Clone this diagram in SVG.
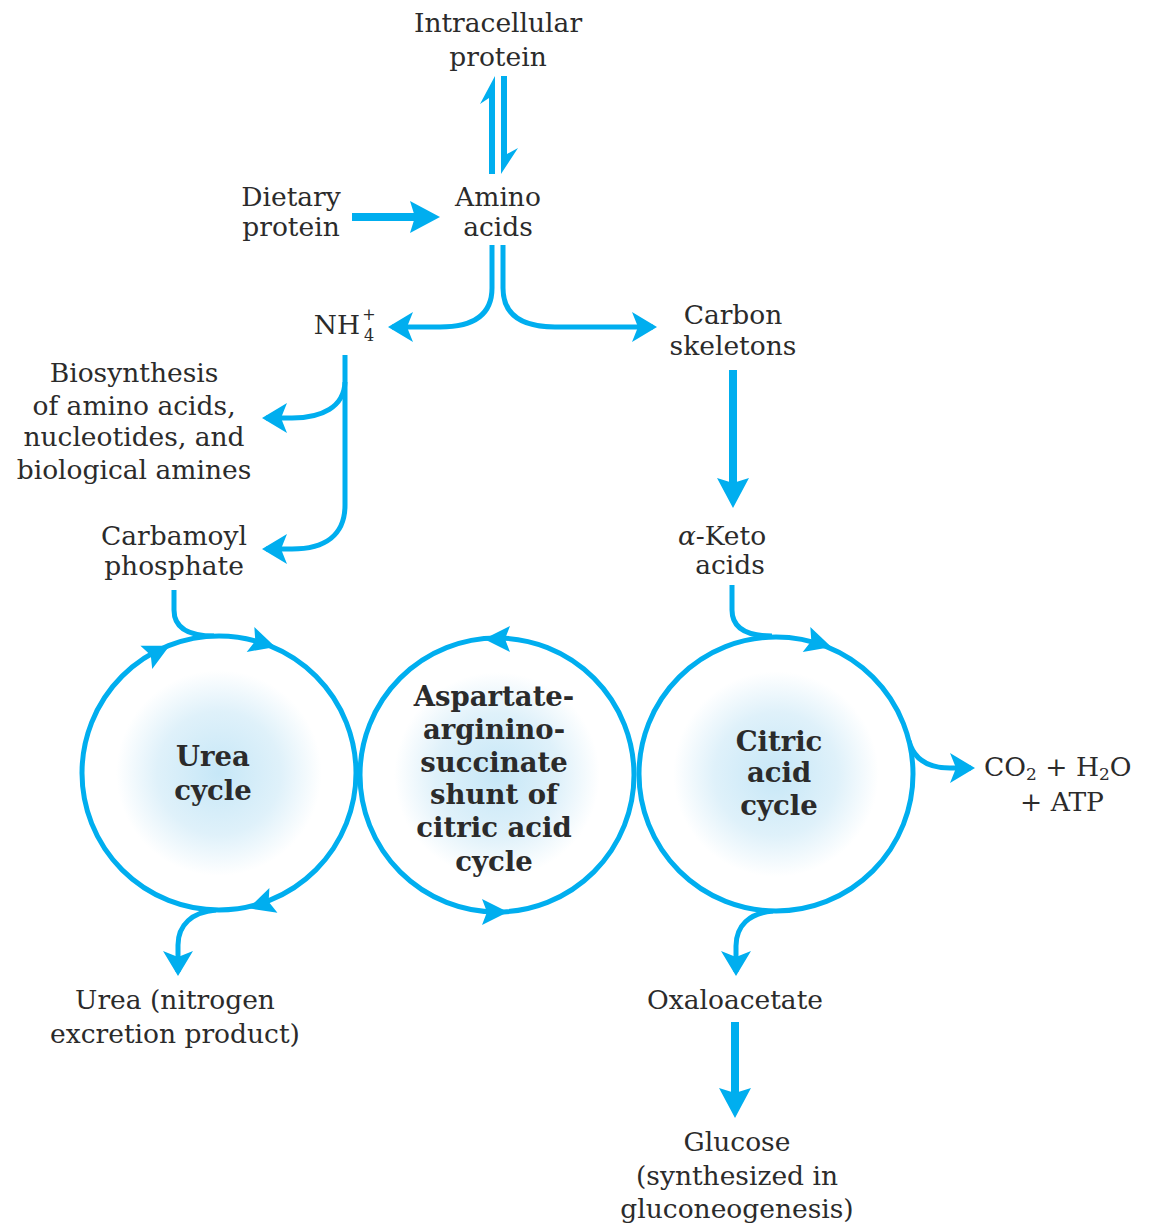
<svg xmlns="http://www.w3.org/2000/svg" xmlns:xlink="http://www.w3.org/1999/xlink" width="1149" height="1224" viewBox="0 0 1149 1224">
<style>
text{font-family:"DejaVu Serif","Liberation Serif",serif;font-size:26.5px;fill:#2b2b2b;text-anchor:middle}
text.b{font-weight:bold;font-size:27.5px}
.ln{fill:none;stroke:#00AEEF;stroke-width:5}
.tk{fill:none;stroke:#00AEEF;stroke-width:8}
.cyc{fill:url(#glow);stroke:#00AEEF;stroke-width:5}
.ah{fill:#00AEEF}
</style>
<defs>
<radialGradient id="glow" cx="0.5" cy="0.5" r="0.5">
<stop offset="0" stop-color="#c6e7f7"/>
<stop offset="0.45" stop-color="#dff1fa"/>
<stop offset="0.75" stop-color="#ffffff"/>
<stop offset="1" stop-color="#ffffff"/>
</radialGradient>
<marker id="mt" markerUnits="userSpaceOnUse" viewBox="-2 -17 30 34" markerWidth="30" markerHeight="34" refX="21" refY="0" orient="auto">
<path d="M0,-15 L25,0 L0,15 L6,0 Z" fill="#00AEEF"/>
</marker>
<marker id="mb" markerUnits="userSpaceOnUse" viewBox="-2 -18 34 36" markerWidth="34" markerHeight="36" refX="22" refY="0" orient="auto">
<path d="M0,-16 L30,0 L0,16 L5,0 Z" fill="#00AEEF"/>
</marker>
<path id="ca" d="M14,0 L-12,-13 L-7,0 L-12,13 Z" fill="#00AEEF"/>
</defs>

<g id="connectors">
<!-- reversible arrows -->
<polygon class="ah" points="495,76 480,104 489,98 489,174 495,174"/>
<polygon class="ah" points="501,76 507,76 507,154 518,148 501,174"/>
<!-- dietary -> amino -->
<path class="tk" d="M352,217 L432,217" marker-end="url(#mb)"/>
<!-- amino -> NH4 -->
<path class="ln" d="M492,245 V288 C492,316 472,327 440,327 L392,327" marker-end="url(#mt)"/>
<!-- amino -> carbon skeletons -->
<path class="ln" d="M503,245 V288 C503,316 523,327 555,327 L653,327" marker-end="url(#mt)"/>
<!-- NH4 -> biosynthesis -->
<path class="ln" d="M345,382 C344,407 322,418 292,418 L266,418" marker-end="url(#mt)"/>
<!-- NH4 -> carbamoyl phosphate -->
<path class="ln" d="M345,355 V505 C345,535 325,549 292,549 L266,549" marker-end="url(#mt)"/>
<!-- carbon skeletons -> keto acids -->
<path class="tk" d="M733,370 L733,500" marker-end="url(#mb)"/>
<!-- carbamoyl -> urea cycle -->
<path class="ln" d="M174,590 V610 C174,628 188,636 214,636"/>
<!-- urea cycle -> urea -->
<path class="ln" d="M216,910 C192,912 178,925 178,945 L178,972" marker-end="url(#mt)"/>
<!-- keto acids -> citric -->
<path class="ln" d="M732,585 V610 C732,628 746,636 772,636"/>
<!-- citric -> oxaloacetate -->
<path class="ln" d="M773,911 C749,913 736,926 736,946 L736,972" marker-end="url(#mt)"/>
<!-- citric -> CO2 -->
<path class="ln" d="M909,741 C914,760 928,768 950,768 L971,768" marker-end="url(#mt)"/>
<!-- oxaloacetate -> glucose -->
<path class="tk" d="M735,1022 L735,1110" marker-end="url(#mb)"/>
</g>

<g id="urea-cycle">
<circle class="cyc" cx="219" cy="773" r="137"/>
<use href="#ca" transform="translate(157,652) rotate(-27)"/>
<use href="#ca" transform="translate(262,643) rotate(17)"/>
<use href="#ca" transform="translate(262,904) rotate(162)"/>
<text class="b" x="213" y="766">Urea</text>
<text class="b" x="213" y="800">cycle</text>
</g>

<g id="aspartate-shunt">
<circle class="cyc" cx="497" cy="775" r="137"/>
<use href="#ca" transform="translate(498,639) rotate(180)"/>
<use href="#ca" transform="translate(494,912) rotate(0)"/>
<text class="b" x="494" y="706">Aspartate-</text>
<text class="b" x="494" y="739">arginino-</text>
<text class="b" x="494" y="772">succinate</text>
<text class="b" x="494" y="804">shunt of</text>
<text class="b" x="494" y="837">citric acid</text>
<text class="b" x="494" y="871">cycle</text>
</g>

<g id="citric-cycle">
<circle class="cyc" cx="776" cy="774" r="137"/>
<use href="#ca" transform="translate(818,643) rotate(17)"/>
<text class="b" x="779" y="751">Citric</text>
<text class="b" x="779" y="782">acid</text>
<text class="b" x="779" y="815">cycle</text>
</g>

<g id="intracellular-protein">
<text x="498" y="32">Intracellular</text>
<text x="498" y="66">protein</text>
</g>
<g id="dietary-protein">
<text x="291" y="206">Dietary</text>
<text x="291" y="236">protein</text>
</g>
<g id="amino-acids">
<text x="498" y="206">Amino</text>
<text x="498" y="236">acids</text>
</g>
<g id="nh4">
<text x="337" y="334">NH</text>
<text x="369" y="320" style="font-size:16px">+</text>
<text x="369" y="341" style="font-size:16px">4</text>
</g>
<g id="carbon-skeletons">
<text x="733" y="324">Carbon</text>
<text x="733" y="355">skeletons</text>
</g>
<g id="biosynthesis">
<text x="134" y="382">Biosynthesis</text>
<text x="134" y="415">of amino acids,</text>
<text x="134" y="446">nucleotides, and</text>
<text x="134" y="479">biological amines</text>
</g>
<g id="carbamoyl-phosphate">
<text x="174" y="545">Carbamoyl</text>
<text x="174" y="575">phosphate</text>
</g>
<g id="keto-acids">
<text x="722" y="545"><tspan font-style="italic">α</tspan>-Keto</text>
<text x="730" y="574">acids</text>
</g>
<g id="co2">
<text x="984" y="776" style="text-anchor:start">CO<tspan font-size="17" dy="4">2</tspan><tspan dy="-4"> + H</tspan><tspan font-size="17" dy="4">2</tspan><tspan dy="-4">O</tspan></text>
<text x="1062" y="811">+ ATP</text>
</g>
<g id="urea">
<text x="175" y="1009">Urea (nitrogen</text>
<text x="175" y="1043">excretion product)</text>
</g>
<g id="oxaloacetate">
<text x="735" y="1009">Oxaloacetate</text>
</g>
<g id="glucose">
<text x="737" y="1151">Glucose</text>
<text x="737" y="1185">(synthesized in</text>
<text x="737" y="1218">gluconeogenesis)</text>
</g>
</svg>
